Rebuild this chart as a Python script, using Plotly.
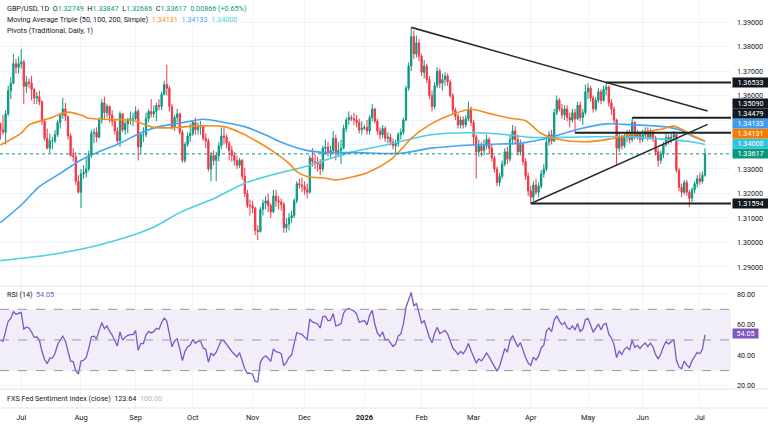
import numpy as np
import pandas as pd
import plotly.graph_objects as go

W, H = 768, 426

# ---------------- data ----------------
dates = pd.bdate_range("2025-06-19", "2026-07-03")
first_open = 1.3485

closes = [
    # Jun 2025
    1.3460, 1.3450, 1.3525, 1.3620, 1.3650, 1.3730, 1.3715, 1.3730,
    # Jul 2025
    1.3737, 1.3637, 1.3655, 1.3650, 1.3625, 1.3590, 1.3595, 1.3575, 1.3495, 1.3425, 1.3385, 1.3415,
    1.3415, 1.3440, 1.3490, 1.3520, 1.3545, 1.3515, 1.3435, 1.3355, 1.3350, 1.3250, 1.3205,
    # Aug 2025
    1.3280, 1.3285, 1.3300, 1.3360, 1.3445, 1.3450, 1.3430, 1.3500, 1.3570, 1.3530, 1.3555, 1.3520,
    1.3495, 1.3455, 1.3415, 1.3525, 1.3460, 1.3485, 1.3500, 1.3505, 1.3505,
    # Sep 2025
    1.3535, 1.3390, 1.3440, 1.3440, 1.3505, 1.3535, 1.3525, 1.3535, 1.3560, 1.3555, 1.3605, 1.3645,
    1.3630, 1.3555, 1.3470, 1.3510, 1.3525, 1.3450, 1.3335, 1.3400, 1.3435, 1.3445,
    # Oct 2025
    1.3490, 1.3460, 1.3475, 1.3475, 1.3425, 1.3415, 1.3300, 1.3355, 1.3335, 1.3355, 1.3395, 1.3435,
    1.3430, 1.3405, 1.3375, 1.3355, 1.3335, 1.3315, 1.3335, 1.3270, 1.3200, 1.3150, 1.3150,
    # Nov 2025
    1.3140, 1.3050, 1.3045, 1.3135, 1.3160, 1.3170, 1.3150, 1.3125, 1.3190, 1.3170, 1.3165, 1.3155,
    1.3060, 1.3075, 1.3100, 1.3110, 1.3170, 1.3240, 1.3235, 1.3230,
    # Dec 2025
    1.3215, 1.3205, 1.3345, 1.3330, 1.3325, 1.3320, 1.3300, 1.3385, 1.3390, 1.3370, 1.3375, 1.3425,
    1.3370, 1.3375, 1.3385, 1.3465, 1.3500, 1.3510, 1.3505, 1.3500, 1.3490, 1.3460, 1.3465,
    # Jan 2026
    1.3470, 1.3455, 1.3510, 1.3545, 1.3495, 1.3455, 1.3440, 1.3465, 1.3425, 1.3430, 1.3410, 1.3395,
    1.3405, 1.3440, 1.3450, 1.3500, 1.3630, 1.3720, 1.3840, 1.3770, 1.3815, 1.3760,
    # Feb 2026
    1.3695, 1.3720, 1.3665, 1.3600, 1.3555, 1.3640, 1.3700, 1.3650, 1.3665, 1.3680, 1.3655, 1.3600,
    1.3540, 1.3515, 1.3480, 1.3500, 1.3480, 1.3505, 1.3545, 1.3490,
    # Mar 2026
    1.3430, 1.3370, 1.3395, 1.3375, 1.3395, 1.3420, 1.3385, 1.3345, 1.3300, 1.3245, 1.3270, 1.3320,
    1.3370, 1.3340, 1.3420, 1.3455, 1.3420, 1.3370, 1.3400, 1.3330, 1.3270, 1.3210,
    # Apr 2026
    1.3185, 1.3235, 1.3205, 1.3230, 1.3280, 1.3300, 1.3410, 1.3440, 1.3415, 1.3530, 1.3580, 1.3545,
    1.3520, 1.3545, 1.3510, 1.3500, 1.3530, 1.3505, 1.3560, 1.3510, 1.3530, 1.3615,
    # May 2026
    1.3630, 1.3590, 1.3545, 1.3580, 1.3615, 1.3580, 1.3625, 1.3635, 1.3570, 1.3545, 1.3500, 1.3385,
    1.3430, 1.3395, 1.3430, 1.3445, 1.3420, 1.3490, 1.3430, 1.3445, 1.3420,
    # Jun 2026
    1.3440, 1.3455, 1.3430, 1.3450, 1.3425, 1.3370, 1.3335, 1.3360, 1.3400, 1.3430, 1.3415, 1.3430,
    1.3440, 1.3295, 1.3225, 1.3205, 1.3245, 1.3205, 1.3180, 1.3215, 1.3240, 1.3260,
    # Jul 2026
    1.3250, 1.32749, 1.33617,
]

highs = [
    1.3490, 1.3520, 1.3540, 1.3640, 1.3675, 1.3770, 1.3750, 1.3760,
    1.3789, 1.3745, 1.3680, 1.3670, 1.3680, 1.3630, 1.3615, 1.3620, 1.3580, 1.3505, 1.3465, 1.3445,
    1.3430, 1.3460, 1.3500, 1.3530, 1.3590, 1.3570, 1.3515, 1.3445, 1.3385, 1.3370, 1.3275,
    1.3300, 1.3315, 1.3345, 1.3375, 1.3460, 1.3465, 1.3470, 1.3510, 1.3585, 1.3595, 1.3565, 1.3560,
    1.3540, 1.3505, 1.3470, 1.3535, 1.3525, 1.3495, 1.3510, 1.3535, 1.3530,
    1.3555, 1.3545, 1.3450, 1.3470, 1.3530, 1.3545, 1.3585, 1.3560, 1.3570, 1.3585, 1.3615, 1.3660,
    1.3726, 1.3640, 1.3565, 1.3520, 1.3545, 1.3530, 1.3460, 1.3410, 1.3450, 1.3485,
    1.3500, 1.3510, 1.3490, 1.3495, 1.3480, 1.3445, 1.3425, 1.3370, 1.3375, 1.3370, 1.3410, 1.3470,
    1.3470, 1.3440, 1.3415, 1.3395, 1.3370, 1.3355, 1.3345, 1.3340, 1.3305, 1.3215, 1.3175,
    1.3170, 1.3145, 1.3070, 1.3145, 1.3175, 1.3190, 1.3200, 1.3160, 1.3215, 1.3215, 1.3190, 1.3180,
    1.3165, 1.3100, 1.3120, 1.3130, 1.3180, 1.3250, 1.3260, 1.3265,
    1.3250, 1.3240, 1.3355, 1.3385, 1.3360, 1.3350, 1.3340, 1.3395, 1.3420, 1.3410, 1.3395, 1.3455,
    1.3440, 1.3410, 1.3420, 1.3480, 1.3510, 1.3535, 1.3520, 1.3530, 1.3520, 1.3505, 1.3495,
    1.3480, 1.3500, 1.3520, 1.3565, 1.3550, 1.3505, 1.3470, 1.3480, 1.3475, 1.3450, 1.3445, 1.3425,
    1.3420, 1.3450, 1.3465, 1.3510, 1.3640, 1.3735, 1.3878, 1.3865, 1.3845, 1.3830,
    1.3770, 1.3745, 1.3730, 1.3680, 1.3620, 1.3655, 1.3715, 1.3710, 1.3690, 1.3695, 1.3690, 1.3665,
    1.3610, 1.3550, 1.3525, 1.3515, 1.3515, 1.3520, 1.3575, 1.3555,
    1.3500, 1.3440, 1.3420, 1.3410, 1.3420, 1.3440, 1.3430, 1.3400, 1.3355, 1.3310, 1.3285, 1.3335,
    1.3385, 1.3390, 1.3435, 1.3480, 1.3475, 1.3440, 1.3420, 1.3410, 1.3345, 1.3285,
    1.3230, 1.3250, 1.3260, 1.3245, 1.3295, 1.3320, 1.3425, 1.3455, 1.3460, 1.3545, 1.3600, 1.3590,
    1.3565, 1.3560, 1.3560, 1.3530, 1.3545, 1.3545, 1.3575, 1.3575, 1.3545, 1.3645,
    1.3650, 1.3640, 1.3600, 1.3595, 1.3630, 1.3625, 1.3640, 1.36533, 1.3640, 1.3585, 1.3555, 1.3505,
    1.3445, 1.3440, 1.3445, 1.3460, 1.3460, 1.35090, 1.3495, 1.3460, 1.3455,
    1.3460, 1.3470, 1.3470, 1.3465, 1.3460, 1.3435, 1.3385, 1.3375, 1.3410, 1.3445, 1.3440, 1.3445,
    1.3455, 1.3445, 1.3305, 1.3240, 1.3255, 1.3255, 1.3215, 1.3225, 1.3250, 1.3275,
    1.3285, 1.3290, 1.33847,
]

lows = [
    1.3420, 1.3440, 1.3400, 1.3515, 1.3585, 1.3645, 1.3690, 1.3690,
    1.3710, 1.3565, 1.3610, 1.3630, 1.3580, 1.3565, 1.3565, 1.3560, 1.3480, 1.3415, 1.3380, 1.3365,
    1.3380, 1.3405, 1.3430, 1.3465, 1.3505, 1.3495, 1.3420, 1.3350, 1.3330, 1.3235, 1.3200,
    1.3140, 1.3260, 1.3265, 1.3290, 1.3345, 1.3405, 1.3410, 1.3425, 1.3485, 1.3505, 1.3510, 1.3490,
    1.3475, 1.3440, 1.3405, 1.3390, 1.3450, 1.3440, 1.3445, 1.3480, 1.3475,
    1.3500, 1.3335, 1.3360, 1.3410, 1.3430, 1.3490, 1.3510, 1.3510, 1.3495, 1.3540, 1.3540, 1.3600,
    1.3600, 1.3535, 1.3460, 1.3455, 1.3490, 1.3440, 1.3325, 1.3325, 1.3390, 1.3410,
    1.3435, 1.3440, 1.3440, 1.3440, 1.3415, 1.3385, 1.3290, 1.3250, 1.3315, 1.3250, 1.3330, 1.3380,
    1.3400, 1.3385, 1.3335, 1.3330, 1.3315, 1.3300, 1.3305, 1.3255, 1.3185, 1.3140, 1.3110,
    1.3120, 1.3030, 1.3010, 1.3040, 1.3110, 1.3135, 1.3125, 1.3100, 1.3120, 1.3145, 1.3135, 1.3130,
    1.3040, 1.3040, 1.3050, 1.3080, 1.3100, 1.3160, 1.3220, 1.3205,
    1.3195, 1.3180, 1.3200, 1.3310, 1.3300, 1.3290, 1.3275, 1.3290, 1.3360, 1.3350, 1.3345, 1.3360,
    1.3335, 1.3350, 1.3320, 1.3380, 1.3450, 1.3480, 1.3495, 1.3480, 1.3470, 1.3445, 1.3440,
    1.3460, 1.3440, 1.3440, 1.3495, 1.3485, 1.3440, 1.3420, 1.3425, 1.3410, 1.3405, 1.3395, 1.3380,
    1.3365, 1.3390, 1.3420, 1.3440, 1.3495, 1.3620, 1.3700, 1.3750, 1.3755, 1.3740,
    1.3680, 1.3670, 1.3650, 1.3585, 1.3535, 1.3545, 1.3630, 1.3630, 1.3620, 1.3640, 1.3640, 1.3590,
    1.3525, 1.3500, 1.3465, 1.3465, 1.3465, 1.3470, 1.3495, 1.3475,
    1.3395, 1.3260, 1.3350, 1.3350, 1.3355, 1.3380, 1.3360, 1.3330, 1.3285, 1.3230, 1.3230, 1.3260,
    1.3310, 1.3320, 1.3330, 1.3400, 1.3400, 1.3355, 1.3355, 1.3315, 1.3255, 1.3190,
    1.31594, 1.3170, 1.3195, 1.3185, 1.3220, 1.3265, 1.3290, 1.3395, 1.3400, 1.3410, 1.3520, 1.3535,
    1.3505, 1.3500, 1.3495, 1.3470, 1.3490, 1.34479, 1.3500, 1.3495, 1.3480, 1.3520,
    1.3585, 1.3575, 1.3530, 1.3535, 1.3570, 1.3565, 1.3575, 1.3600, 1.3555, 1.3520, 1.3485, 1.3316,
    1.3370, 1.3380, 1.3385, 1.3410, 1.3405, 1.3410, 1.3420, 1.3420, 1.3405,
    1.3410, 1.3425, 1.3415, 1.3420, 1.3410, 1.3355, 1.3310, 1.3320, 1.3345, 1.3390, 1.3400, 1.3405,
    1.3415, 1.3285, 1.3210, 1.3185, 1.3195, 1.3190, 1.3144, 1.3165, 1.3200, 1.3225,
    1.3235, 1.3240, 1.32686,
]

# closes before the first visible bar, only used to warm up RSI(14)
warmup_closes = [1.3460, 1.3535, 1.3525, 1.3545, 1.3570, 1.3525, 1.3555, 1.3500,
                 1.3545, 1.3605, 1.3570, 1.3585, 1.3500, 1.3440]

# moving averages (bar number, value)
ma50_bar = [0, 8, 11, 19, 26, 31, 34, 42, 51, 58, 64, 77, 86, 93, 101, 106, 111, 114, 118, 125, 129,
            136, 142, 150, 154, 158, 165, 173, 181, 188, 196, 202, 208, 215, 225, 234, 240, 247,
            254, 259, 262, 266, 271]
ma50_val = [1.3398, 1.3446, 1.3480, 1.3507, 1.3532, 1.3520, 1.3507, 1.3502, 1.3498, 1.3472, 1.3468,
            1.3476, 1.3473, 1.3445, 1.3398, 1.3364, 1.3323, 1.3289, 1.3269, 1.3262, 1.3255, 1.3269,
            1.3289, 1.3337, 1.3378, 1.3425, 1.3480, 1.3520, 1.3544, 1.3527, 1.3507, 1.3497, 1.3445,
            1.3420, 1.3411, 1.3422, 1.3435, 1.3450, 1.3462, 1.3475, 1.3462, 1.3438, 1.34131]
ma100_bar = [0, 8, 15, 23, 31, 38, 46, 54, 61, 69, 78, 86, 94, 102, 109, 117, 125, 136, 154, 165,
             181, 192, 200, 208, 215, 223, 233, 240, 248, 256, 261, 266, 271]
ma100_val = [1.3081, 1.3153, 1.3228, 1.3282, 1.3337, 1.3371, 1.3405, 1.3448, 1.3473, 1.3487, 1.3503,
             1.3490, 1.3473, 1.3439, 1.3405, 1.3378, 1.3367, 1.3367, 1.3364, 1.3384, 1.3398, 1.3402,
             1.3405, 1.3420, 1.3440, 1.3464, 1.3484, 1.3482, 1.3478, 1.3472, 1.3460, 1.3435, 1.34133]
ma200_bar = [0, 19, 38, 58, 69, 83, 94, 106, 117, 125, 136, 150, 165, 181, 192, 204, 215, 240, 259,
             266, 271]
ma200_val = [1.2926, 1.2950, 1.2990, 1.3058, 1.3122, 1.3184, 1.3242, 1.3280, 1.3309, 1.3337, 1.3371,
             1.3402, 1.3439, 1.3448, 1.3443, 1.3429, 1.3429, 1.3432, 1.3418, 1.3411, 1.3400]

# drawn levels and trend lines (anchored on swing dates)
pivot_levels = [1.36533, 1.35090, 1.34479, 1.31594]
pivot_dates = ["2026-05-12", "2026-05-26", "2026-04-24", "2026-04-01"]
down_trend_dates = ["2026-01-27", "2026-05-12"]   # highs
up_trend_dates = ["2026-04-01", "2026-05-18"]     # lows

month_labels = ["Jul", "Aug", "Sep", "Oct", "Nov", "Dec", "<b>2026</b>", "Feb", "Mar", "Apr",
                "May", "Jun", "Jul"]
header_ohlc = dict(o="1.32749", h="1.33847", l="1.32686", c="1.33617", chg="0.00866 (+0.65%)")
ma_header = ["1.34131", "1.34133", "1.34000"]
rsi_header = "54.05"
fxs_header = ["123.64", "100.00"]

# ---------------- derived ----------------
n = len(closes)
assert n == len(dates) == len(highs) == len(lows)
idx = np.arange(n)
opens = [first_open] + closes[:-1]
highs = [max(h, o, c) for h, o, c in zip(highs, opens, closes)]
lows = [min(l, o, c) for l, o, c in zip(lows, opens, closes)]

allc = np.array(warmup_closes + closes)
d = np.diff(allc)
gain = np.clip(d, 0, None)
loss = np.clip(-d, 0, None)
ag, al = gain[:14].mean(), loss[:14].mean()
rsi = [100 - 100 / (1 + ag / al)]
for g, l in zip(gain[14:], loss[14:]):
    ag = (ag * 13 + g) / 14
    al = (al * 13 + l) / 14
    rsi.append(100 - 100 / (1 + ag / al))

def bar(s):
    return dates.get_loc(pd.Timestamp(s))

# ---------------- layout geometry ----------------
PLOT_R = 731 / W
X_RANGE = [-0.15, 281.0]
P_TOP, P_BOT = 1.39898, 1.28224
MAIN_B = (H - 286) / H
RSI_B = (H - 389) / H
FXS_B = (H - 408) / H
R_TOP, R_BOT = 85.2, 18.0

GREEN, RED = "#089981", "#f23645"
ORANGE, BLUE, CYAN = "#f68b1f", "#42a5f5", "#4dd0e1"
PURPLE = "#7e57c2"
TXT = "#131722"
FONT = "Roboto"

fig = go.Figure()

fig.add_trace(go.Candlestick(
    x=idx, open=opens, high=highs, low=lows, close=closes,
    increasing=dict(line=dict(color=GREEN, width=1), fillcolor=GREEN),
    decreasing=dict(line=dict(color=RED, width=1), fillcolor=RED),
    whiskerwidth=0, xaxis="x", yaxis="y", hoverinfo="skip"))

for bars, vals, col in [(ma200_bar, ma200_val, CYAN), (ma100_bar, ma100_val, BLUE),
                        (ma50_bar, ma50_val, ORANGE)]:
    fig.add_trace(go.Scatter(x=bars, y=vals, mode="lines", xaxis="x", yaxis="y",
                             line=dict(color=col, width=1.6, shape="spline", smoothing=0.8),
                             hoverinfo="skip"))

fig.add_trace(go.Scatter(x=idx, y=rsi, mode="lines", xaxis="x2", yaxis="y2",
                         line=dict(color=PURPLE, width=1.3), hoverinfo="skip"))
fig.add_trace(go.Scatter(x=[X_RANGE[0]], y=[0.5], mode="markers", xaxis="x3", yaxis="y3",
                         marker=dict(opacity=0), hoverinfo="skip"))

shapes = []
# pane separators
for yb in [MAIN_B, RSI_B, FXS_B]:
    shapes.append(dict(type="line", xref="paper", yref="paper", x0=0, x1=1, y0=yb, y1=yb,
                       line=dict(color="#e0e3eb", width=1)))
# close price line
shapes.append(dict(type="line", xref="x", yref="y", x0=X_RANGE[0], x1=X_RANGE[1],
                   y0=closes[-1], y1=closes[-1], line=dict(color=GREEN, width=1, dash="dot")))
# pivot levels
for lvl, ds in zip(pivot_levels, pivot_dates):
    shapes.append(dict(type="line", xref="x", yref="y", x0=bar(ds), x1=X_RANGE[1], y0=lvl, y1=lvl,
                       line=dict(color="#1f1f1f", width=2)))
# trend lines
a, b = bar(down_trend_dates[0]), bar(down_trend_dates[1])
slope = (highs[b] - highs[a]) / (b - a)
shapes.append(dict(type="line", xref="x", yref="y", x0=a, y0=highs[a], x1=n, y1=highs[a] + slope * (n - a),
                   line=dict(color="#2a2a2a", width=1.6)))
a, b = bar(up_trend_dates[0]), bar(up_trend_dates[1])
slope = (lows[b] - lows[a]) / (b - a)
shapes.append(dict(type="line", xref="x", yref="y", x0=a, y0=lows[a], x1=n, y1=lows[a] + slope * (n - a),
                   line=dict(color="#2a2a2a", width=1.6)))
# RSI band and levels
shapes.append(dict(type="rect", xref="x2", yref="y2", x0=X_RANGE[0], x1=X_RANGE[1], y0=30, y1=70,
                   fillcolor="rgba(126,87,194,0.10)", line=dict(width=0), layer="below"))
for lv in [70, 50, 30]:
    shapes.append(dict(type="line", xref="x2", yref="y2", x0=X_RANGE[0], x1=X_RANGE[1], y0=lv, y1=lv,
                       line=dict(color="#9598a1", width=1, dash="dash")))

# ---------------- annotations ----------------
def span(t, c):
    return f'<span style="color:{c}">{t}</span>'

sp = "\u00a0"
ann = []
def header(text, ypx, size=7.2):
    ann.append(dict(xref="paper", yref="paper", x=5 / W, y=1 - ypx / H, xanchor="left", yanchor="middle",
                    text=text, showarrow=False, font=dict(family=FONT, size=size, color=TXT)))

header("GBP/USD, 1D" + sp * 2 + "O" + span(header_ohlc["o"], GREEN) + sp * 2 + "H" + span(header_ohlc["h"], GREEN)
       + sp * 2 + "L" + span(header_ohlc["l"], GREEN) + sp * 2 + "C" + span(header_ohlc["c"], GREEN) + sp * 2
       + span(header_ohlc["chg"], GREEN), 8.5)
header("Moving Average Triple (50, 100, 200, Simple)" + sp * 2 + span(ma_header[0], ORANGE) + sp * 2
       + span(ma_header[1], BLUE) + sp * 2 + span(ma_header[2], CYAN), 19.5)
header("Pivots (Traditional, Daily, 1)", 30)
header("RSI (14)" + sp * 2 + span(rsi_header, PURPLE), 294.5)
header("FXS Fed Sentiment Index (close)" + sp * 2 + fxs_header[0] + sp * 2 + span(fxs_header[1], "#b2b5be"), 398.5)

# price-scale boxes, stacked so they do not overlap
BOX_H = 8.6
GAP = 10.0

def px_of(p):
    return (P_TOP - p) / (P_TOP - P_BOT) * 286

def price_of(px):
    return P_TOP - px / 286 * (P_TOP - P_BOT)

boxes = [(pivot_levels[0], "#131722"), (pivot_levels[1], "#131722"), (pivot_levels[2], "#131722"),
         (ma100_val[-1], "#3f9cf2"), (ma50_val[-1], "#f57c00"), (ma200_val[-1], "#35c3d9"),
         (closes[-1], GREEN), (pivot_levels[3], "#131722")]
boxes_sorted = sorted(boxes, key=lambda t: -t[0])
placed = []
prev = None
for p, col in reversed(boxes_sorted):
    y = px_of(p)
    if prev is not None:
        y = min(y, prev - GAP)
    placed.append((p, col, y))
    prev = y
for p, col, y in placed:
    ann.append(dict(xref="paper", yref="y", x=PLOT_R + 1 / W, y=price_of(y), xanchor="left", yanchor="middle",
                    text=f"{p:.5f}", showarrow=False, bgcolor=col, borderpad=0, width=35, height=BOX_H,
                    font=dict(family=FONT, size=7.2, color="white")))
ann.append(dict(xref="paper", yref="y2", x=PLOT_R + 1 / W, y=float(rsi_header), xanchor="left", yanchor="middle",
                text=rsi_header, showarrow=False, bgcolor=PURPLE, borderpad=0, width=25, height=BOX_H,
                font=dict(family=FONT, size=7.2, color="white")))

# hide axis labels that sit under the stacked boxes (TradingView does the same)
box_px = [y for _, _, y in placed]
price_ticks = [round(1.29 + 0.01 * k, 2) for k in range(11)]
price_text = [("" if any(abs(px_of(v) - by) < 6 for by in box_px) else f"{v:.5f}") for v in price_ticks]

# month ticks
month_start = [i for i in range(n) if i == 0 or dates[i].month != dates[i - 1].month][1:]
tickvals = month_start

axis_common = dict(range=X_RANGE, domain=[0, PLOT_R], showgrid=True, gridcolor="#f0f3fa", gridwidth=1,
                   zeroline=False, showline=False, tickvals=tickvals, ticks="")
fig.update_layout(
    width=W, height=H, margin=dict(l=0, r=0, t=0, b=0),
    paper_bgcolor="white", plot_bgcolor="white", showlegend=False,
    font=dict(family=FONT, size=7.2, color=TXT),
    xaxis=dict(**axis_common, anchor="y", showticklabels=False, rangeslider=dict(visible=False)),
    xaxis2=dict(**axis_common, anchor="y2", showticklabels=False, matches="x"),
    xaxis3=dict(**axis_common, anchor="y3", showticklabels=True, ticktext=month_labels, matches="x",
                tickfont=dict(family=FONT, size=7.5, color=TXT), ticklabelstandoff=3),
    yaxis=dict(domain=[MAIN_B, 1], range=[P_BOT, P_TOP], side="right", tickvals=price_ticks,
               ticktext=price_text, showgrid=True, gridcolor="#f0f3fa",
               zeroline=False, ticks="", tickfont=dict(family=FONT, size=7.2, color=TXT), ticklabelstandoff=5),
    yaxis2=dict(domain=[RSI_B, MAIN_B], range=[R_BOT, R_TOP], side="right", tickvals=[20, 40, 60, 80],
                ticktext=["20.00", "40.00", "60.00", "80.00"], showgrid=True, gridcolor="#f0f3fa",
                zeroline=False, ticks="", tickfont=dict(family=FONT, size=7.2, color=TXT), ticklabelstandoff=5),
    yaxis3=dict(domain=[FXS_B, RSI_B], range=[0, 1], visible=False),
    shapes=shapes, annotations=ann,
)

fig.write_html("out.html")
